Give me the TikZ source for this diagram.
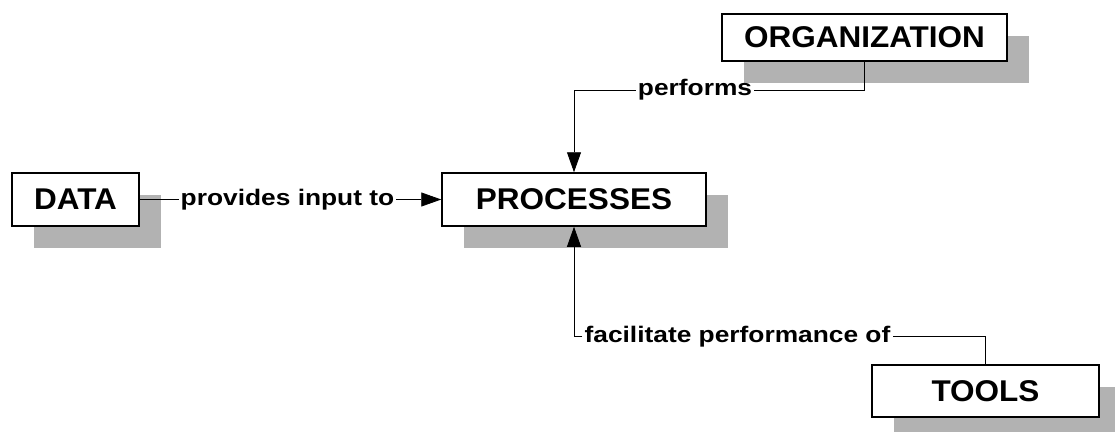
\documentclass[tikz,border=0pt]{standalone}
\usepackage{fontspec}
\setmainfont{Liberation Sans}
\newfontfamily\boxfont{Liberation Sans}[FakeStretch=1.05]
\newfontfamily\linkfont{Liberation Sans}[FakeStretch=1.17]
\usetikzlibrary{arrows.meta,shadows}

\tikzset{
  entity/.style={draw=black, line width=1.5pt, fill=white, inner sep=0pt,
    minimum height=53pt, font=\boxfont\bfseries\fontsize{30}{32}\selectfont,
    drop shadow={shadow xshift=22pt, shadow yshift=-22pt, fill=black!30, draw=none, opacity=1}},
  link/.style={inner sep=2pt, font=\linkfont\bfseries\fontsize{22.5}{25}\selectfont},
  rel/.style={line width=0.8pt, -{Triangle[length=20pt,width=14pt]}}
}

\begin{document}
\begin{tikzpicture}[x=1pt, y=-1pt]

\useasboundingbox (0,0) rectangle (1115,431);

\node[entity, minimum width=127pt] (data) at (75.5,199.5) {DATA};
\node[entity, minimum width=264pt] (proc) at (574,199.5) {PROCESSES};
\node[entity, minimum width=285pt, minimum height=47pt] (org) at (864.5,37.5) {ORGANIZATION};
\node[entity, minimum width=227pt, minimum height=52pt] (tools) at (985.5,391) {TOOLS};

\node[link] (input) at (287.5,199.5) {provides input to};
\node[link] (performs) at (695,90) {performs};
\node[link] (facilitates) at (737.5,336.5) {facilitate performance of};

\draw[rel] (data) -- (input) -- (proc);
\draw[rel] (org) |- (performs) -| (proc);
\draw[rel] (tools) |- (facilitates) -| (proc);

\end{tikzpicture}
\end{document}
